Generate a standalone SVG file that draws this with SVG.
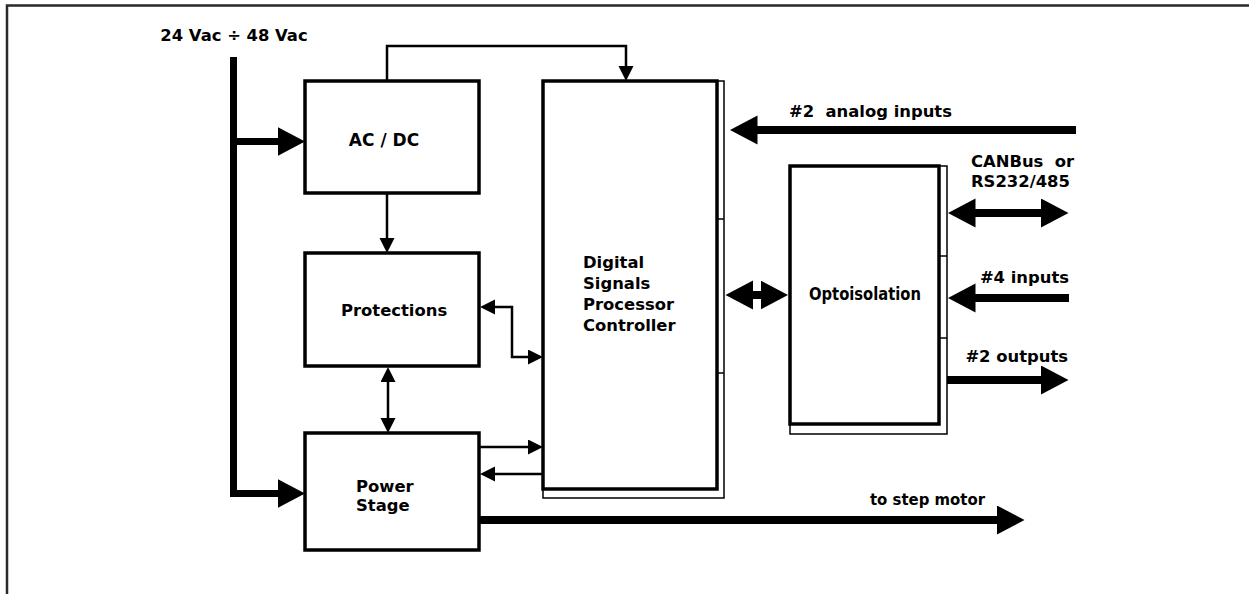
<svg xmlns="http://www.w3.org/2000/svg" width="1249" height="594" viewBox="0 0 1249 594">
<style>
  text { font-family: "DejaVu Sans", Verdana, sans-serif; font-weight: bold; font-size: 16.4px; fill: #000; }
  .box { fill: #fff; stroke: #000; stroke-width: 3.5; }
  .shadow { fill: #fff; stroke: #000; stroke-width: 1.5; }
  .tick { stroke: #000; stroke-width: 1.5; }
  .thin { fill: none; stroke: #000; stroke-width: 2.5; stroke-linejoin: miter; }
  .thick { fill: none; stroke: #000; stroke-width: 8; stroke-linejoin: miter; }
  .bus { fill: none; stroke: #000; stroke-width: 7; stroke-linejoin: miter; }
</style>
<defs>
  <marker id="sm" markerUnits="userSpaceOnUse" markerWidth="16" markerHeight="16" refX="0.5" refY="7.5" orient="auto-start-reverse" viewBox="0 0 16 16">
    <path d="M0,0 L15,7.5 L0,15 Z" fill="#000"/>
  </marker>
  <marker id="lg" markerUnits="userSpaceOnUse" markerWidth="30" markerHeight="30" refX="0.5" refY="14.5" orient="auto-start-reverse" viewBox="0 0 30 30">
    <path d="M0,0 L27.5,14.5 L0,29 Z" fill="#000"/>
  </marker>
</defs>
<rect width="1249" height="594" fill="#fff"/>
<path d="M7,594 V5.5 H1249" fill="none" stroke="#2a2a2a" stroke-width="2.5"/>

<g id="supply">
  <text x="234" y="41" text-anchor="middle">24 Vac ÷ 48 Vac</text>
</g>

<g id="acdc">
  <rect class="box" x="305" y="81" width="174" height="112"/>
  <text x="384" y="146" text-anchor="middle" style="font-size:17px">AC / DC</text>
</g>

<g id="protections">
  <rect class="box" x="305" y="253" width="174" height="113"/>
  <text x="341" y="316">Protections</text>
</g>

<g id="powerstage">
  <rect class="box" x="305" y="433" width="174" height="117"/>
  <text x="356" y="492">Power</text>
  <text x="356" y="511">Stage</text>
</g>

<g id="dsp">
  <rect class="shadow" x="543" y="81" width="181" height="417"/>
  <rect class="box" x="543" y="81" width="174" height="408"/>
  <line class="tick" x1="717" y1="219" x2="724" y2="219"/>
  <line class="tick" x1="717" y1="373" x2="724" y2="373"/>
  <text x="583" y="268">Digital</text>
  <text x="583" y="289">Signals</text>
  <text x="583" y="310">Processor</text>
  <text x="583" y="331">Controller</text>
</g>

<g id="opto">
  <rect class="shadow" x="790" y="166" width="157" height="268"/>
  <rect class="box" x="790" y="166" width="149" height="258"/>
  <line class="tick" x1="939" y1="256" x2="947" y2="256"/>
  <line class="tick" x1="939" y1="338" x2="947" y2="338"/>
  <text x="865" y="300" text-anchor="middle" textLength="112" lengthAdjust="spacingAndGlyphs" style="font-size:17.5px">Optoisolation</text>
</g>

<g id="labels">
  <text x="789" y="117" xml:space="preserve">#2  analog inputs</text>
  <text x="971" y="167" xml:space="preserve">CANBus  or</text>
  <text x="971" y="187">RS232/485</text>
  <text x="1069" y="283" text-anchor="end">#4 inputs</text>
  <text x="1068" y="362" text-anchor="end">#2 outputs</text>
  <text x="870" y="505" textLength="115" lengthAdjust="spacingAndGlyphs">to step motor</text>
</g>

<g id="connectors">
  <path class="bus" d="M233.5,57 V493.5 H278" marker-end="url(#lg)"/>
  <path class="bus" d="M233.5,141.5 H278" marker-end="url(#lg)"/>
  <path class="thin" d="M387,81 V46 H626 V66.5" marker-end="url(#sm)"/>
  <path class="thin" d="M387,193 V238.5" marker-end="url(#sm)"/>
  <path class="thin" d="M388,381.5 V418.5" marker-start="url(#sm)" marker-end="url(#sm)"/>
  <path class="thin" d="M494.5,307 H512 V357 H528.5" marker-start="url(#sm)" marker-end="url(#sm)"/>
  <path class="thin" d="M479,447 H528.5" marker-end="url(#sm)"/>
  <path class="thin" d="M543,474 H494.5" marker-end="url(#sm)"/>
  <path class="thick" d="M1076,130 H757" marker-end="url(#lg)"/>
  <path class="thick" d="M752.5,295 H761" marker-start="url(#lg)" marker-end="url(#lg)"/>
  <path class="thick" d="M975,213 H1041.5" marker-start="url(#lg)" marker-end="url(#lg)"/>
  <path class="thick" d="M1069,298 H975" marker-end="url(#lg)"/>
  <path class="thick" d="M947,380 H1041.5" marker-end="url(#lg)"/>
  <path class="thick" d="M479,520 H997.5" marker-end="url(#lg)"/>
</g>
</svg>
